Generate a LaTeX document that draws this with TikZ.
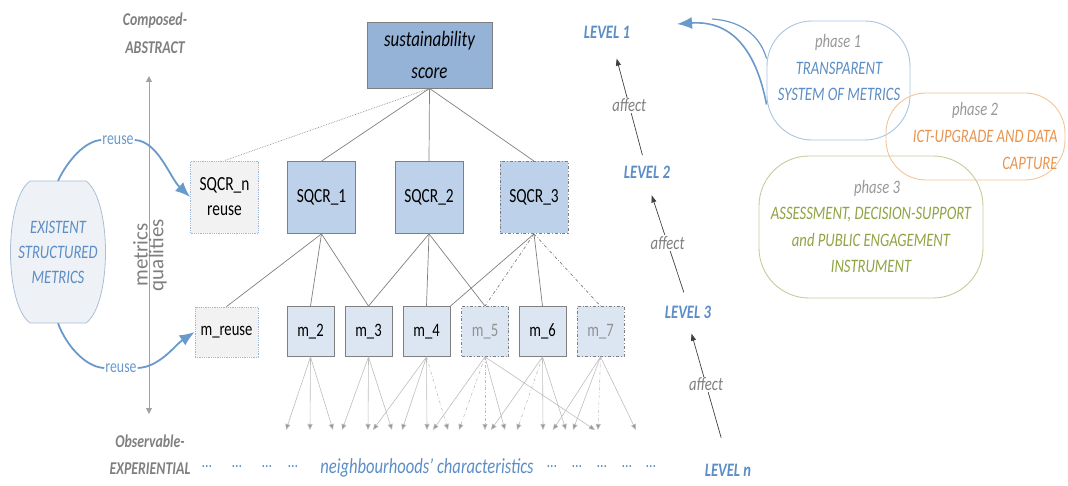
\documentclass[tikz,border=0pt]{standalone}
\usepackage{fontspec}
\setmainfont{Carlito}[FakeStretch=0.77]
\newfontfamily\plainfont{Carlito}
\usetikzlibrary{arrows.meta,calc}
\definecolor{tblue}{HTML}{5B8DC6}
\definecolor{ablue}{HTML}{6A9ACB}
\definecolor{tgray}{HTML}{7F7F7F}
\definecolor{boxgray}{HTML}{7F7F7F}
\definecolor{ssfill}{HTML}{95B3D7}
\definecolor{sqfill}{HTML}{BDD2EA}
\definecolor{mfill}{HTML}{DCE6F2}
\definecolor{rfill}{HTML}{F2F2F2}
\definecolor{rborder}{HTML}{9DB9D9}
\definecolor{exfill}{HTML}{EEF1F5}
\definecolor{exborder}{HTML}{A9BFD6}
\definecolor{leafgray}{HTML}{BDBDBD}
\definecolor{p1col}{HTML}{A9C4E0}
\definecolor{p2col}{HTML}{F2C49C}
\definecolor{p2txt}{HTML}{E8944F}
\definecolor{p3col}{HTML}{C5CC9C}
\definecolor{p3txt}{HTML}{8FA342}
\tikzset{
  box/.style={draw=boxgray, line width=0.8pt, inner sep=0pt, align=center, font=\fontsize{20pt}{25pt}\selectfont},
  sqbox/.style={box, fill=sqfill, minimum width=68pt, minimum height=72pt},
  mbox/.style={box, fill=mfill, minimum width=47pt, minimum height=50pt, font=\fontsize{19pt}{23pt}\selectfont},
  reusebox/.style={draw=rborder, densely dotted, fill=rfill},
  tentative/.style={dash dot},
  tree/.style={draw=boxgray, line width=0.7pt},
  leaf/.style={draw=leafgray, line width=0.6pt, -{Triangle[width=5pt,length=6pt,fill=leafgray!80!black]}},
  axisline/.style={draw=leafgray!85!black, line width=1pt, {Triangle[width=6pt,length=6pt]}-{Triangle[width=6pt,length=6pt]}},
  reusearr/.style={draw=ablue, line width=1.8pt},
  reuselbl/.style={fill=white, inner sep=1pt, text=ablue, font=\fontsize{18pt}{20pt}\selectfont},
  level/.style={text=tblue, font=\fontsize{19pt}{22pt}\selectfont\bfseries\itshape, inner sep=2pt, text height=12pt, text depth=0pt},
  aff/.style={draw=black!75, line width=0.7pt, -{Triangle[width=5pt,length=7pt]}},
  afflbl/.style={fill=white, inner sep=1pt, text=tgray, font=\fontsize{19pt}{22pt}\selectfont\itshape},
  gtitle/.style={text=tgray, align=center, font=\fontsize{18pt}{28pt}\selectfont\bfseries\itshape},
  phase/.style={line width=0.9pt, inner sep=0pt},
  ptxt/.style={align=center, font=\fontsize{19pt}{26.5pt}\selectfont\itshape},
  dots/.style={text=tblue, font=\fontsize{18pt}{18pt}\selectfont},
}
\begin{document}
\begin{tikzpicture}[x=1pt,y=-1pt]
\useasboundingbox (0,0) rectangle (1068,486);

% axis and its labels
\node[gtitle] (comp) at (155,33) {Composed-\\ABSTRACT};
\node[gtitle, font=\fontsize{18pt}{27pt}\selectfont\bfseries\itshape] (obs) at (150,455) {Observable-\\EXPERIENTIAL};
\coordinate (axtop) at (149,76);
\coordinate (axbot) at (149,414);
\draw[axisline] (axbot) -- (axtop);
\node[rotate=90, align=center, text=tgray, font=\plainfont\fontsize{21pt}{13pt}\selectfont] (mq) at (150,255) {metrics\\qualities};

% existing metrics barrel
\draw[draw=exborder, fill=exfill, line width=0.8pt]
  (30,181) -- (86,181) .. controls (112,200) and (112,304) .. (86,323)
  -- (30,323) .. controls (4,304) and (4,200) .. (30,181) -- cycle;
\node[align=center, text=tblue, font=\fontsize{19pt}{25pt}\selectfont\itshape, minimum width=56pt, minimum height=142pt, inner sep=0pt] (ex) at (58,252) {EXISTENT\\STRUCTURED\\METRICS};

% tree
\node[box, fill=ssfill, minimum width=125pt, minimum height=66pt, font=\fontsize{22pt}{32pt}\selectfont\itshape] (ss) at (429.5,55) {sustainability\\score};
\node[sqbox, reusebox] (sqn) at (224.5,197) {SQCR\_n\\reuse};
\node[sqbox] (sq1) at (321.5,197.5) {SQCR\_1};
\node[sqbox] (sq2) at (429,197.5) {SQCR\_2};
\node[sqbox, tentative] (sq3) at (534,197.5) {SQCR\_3};

\node[mbox, reusebox, minimum width=63pt] (mr) at (226.5,332) {m\_reuse};
\node[mbox] (m2) at (310.5,331.5) {m\_2};
\node[mbox] (m3) at (368.5,331.5) {m\_3};
\node[mbox] (m4) at (426.5,331.5) {m\_4};
\node[mbox, tentative, text=tgray!85] (m5) at (485,331.5) {m\_5};
\node[mbox] (m6) at (542.5,331.5) {m\_6};
\node[mbox, tentative, text=tgray!85] (m7) at (600.5,331.5) {m\_7};

\draw[tree, densely dotted, line width=0.6pt] (ss.south) -- (sqn.north);
\draw[tree] (ss.south) -- (sq1.north);
\draw[tree] (ss.south) -- (sq2.north);
\draw[tree] (ss.south) -- (sq3.north);

\draw[tree] (sq1.south) -- (mr.north);
\draw[tree] (sq1.south) -- (m2.north);
\draw[tree] (sq1.south) -- (m3.north);
\draw[tree] (sq2.south) -- (m3.north);
\draw[tree] (sq2.south) -- (m4.north);
\draw[tree] (sq2.south) -- (m5.north);
\draw[tree] (sq3.south) -- (m4.north east);
\draw[tree, tentative] (sq3.south) -- (m5.north);
\draw[tree] (sq3.south) -- (m6.north);
\draw[tree, tentative] (sq3.south) -- (m7.north);

% leaves
\foreach \x in {286,310,333} \draw[leaf] (m2.south) -- (\x,430);
\foreach \x in {342,368,392} \draw[leaf] (m3.south) -- (\x,430);
\foreach \x in {373,402,427} \draw[leaf] (m4.south) -- (\x,430);
\draw[leaf, tentative] (m4.south) -- (448,430);
\foreach \x in {433,505,595} \draw[leaf] (m5.south) -- (\x,430);
\foreach \x in {459,485} \draw[leaf, tentative] (m5.south) -- (\x,430);
\foreach \x in {491,543,566} \draw[leaf] (m6.south) -- (\x,430);
\draw[leaf, tentative] (m6.south) -- (517,430);
\foreach \x in {553,573,636} \draw[leaf] (m7.south) -- (\x,430);
\draw[leaf, tentative] (m7.south) -- (598,430);

% reuse arrows
\node[reuselbl] (r1) at (118,140) {reuse};
\node[reuselbl] (r2) at (121,368) {reuse};
\draw[reusearr] (ex.north) .. controls (68,160) and (85,141) .. (r1.west);
\draw[reusearr, -{Latex[length=15pt,width=12pt]}] (r1.east) .. controls (158,141) and (170,178) .. (sqn.west);
\draw[reusearr] (ex.south) .. controls (66,345) and (85,367) .. (r2.west);
\draw[reusearr, -{Latex[length=15pt,width=12pt]}] (r2.east) .. controls (160,367) and (175,345) .. (mr.west);

% bottom line text
\foreach \x [count=\i] in {207,237,267,293,552,577,602,627,651}
  \node[dots] (dot\i) at (\x,467) {…};
\node[text=tblue, font=\fontsize{21.5pt}{23pt}\selectfont\itshape] (nb) at (427,468) {neighbourhoods’ characteristics};

% levels
\node[level] (L1) at (607,33) {LEVEL 1};
\node[level] (L2) at (647,173) {LEVEL 2};
\node[level] (L3) at (688,313) {LEVEL 3};
\node[level] (Ln) at (728,470) {LEVEL n};
\draw[aff, shorten <=10pt, shorten >=18pt] ([xshift=-2pt]L2.north) -- node[afflbl, pos=0.48] (af1) {affect} ([xshift=5pt]L1.south);
\draw[aff, shorten <=13pt, shorten >=15pt] (L3.north) -- node[afflbl, pos=0.5] (af2) {affect} (L2.south);
\draw[aff, shorten <=25pt, shorten >=13pt] (Ln.north) -- node[afflbl, pos=0.55] (af3) {affect} (L3.south);

% phases
\node[phase, draw=p1col, minimum width=143pt, minimum height=119pt, rounded corners=45pt] (p1) at (838.5,80.5) {};
\node[phase, draw=p2col, minimum width=179pt, minimum height=87pt, rounded corners=40pt] (p2) at (975.5,136.5) {};
\node[phase, draw=p3col, minimum width=224pt, minimum height=142pt, rounded corners=50pt] (p3) at (871,227) {};

\node[ptxt, text=tgray!80] (p1h) at (838,42) {phase 1};
\node[ptxt, text=tblue] (p1t) at (839,81.5) {TRANSPARENT\\SYSTEM OF METRICS};
\node[ptxt, text=tgray!80] (p2h) at (975,110) {phase 2};
\node[ptxt, text=p2txt, align=right, anchor=east] (p2t) at (1061,150) {ICT-UPGRADE AND DATA\\CAPTURE};
\node[ptxt, text=tgray!80] (p3h) at (877,188) {phase 3};
\node[ptxt, text=p3txt] (p3t) at (871,240) {ASSESSMENT, DECISION-SUPPORT\\and PUBLIC ENGAGEMENT\\INSTRUMENT};

% big arrow from phase 1 to level 1
\coordinate (bigtip) at (677,24);
\draw[reusearr, line width=1.6pt, -{Latex[length=15pt,width=12pt]}] ([yshift=-24pt]p1.west) .. controls (757,55) and (735,20) .. (bigtip);
\draw[reusearr, line width=1.2pt] ([yshift=22pt]p1.west) .. controls (760,36) and (742,21) .. (712,19);
\end{tikzpicture}
\end{document}
